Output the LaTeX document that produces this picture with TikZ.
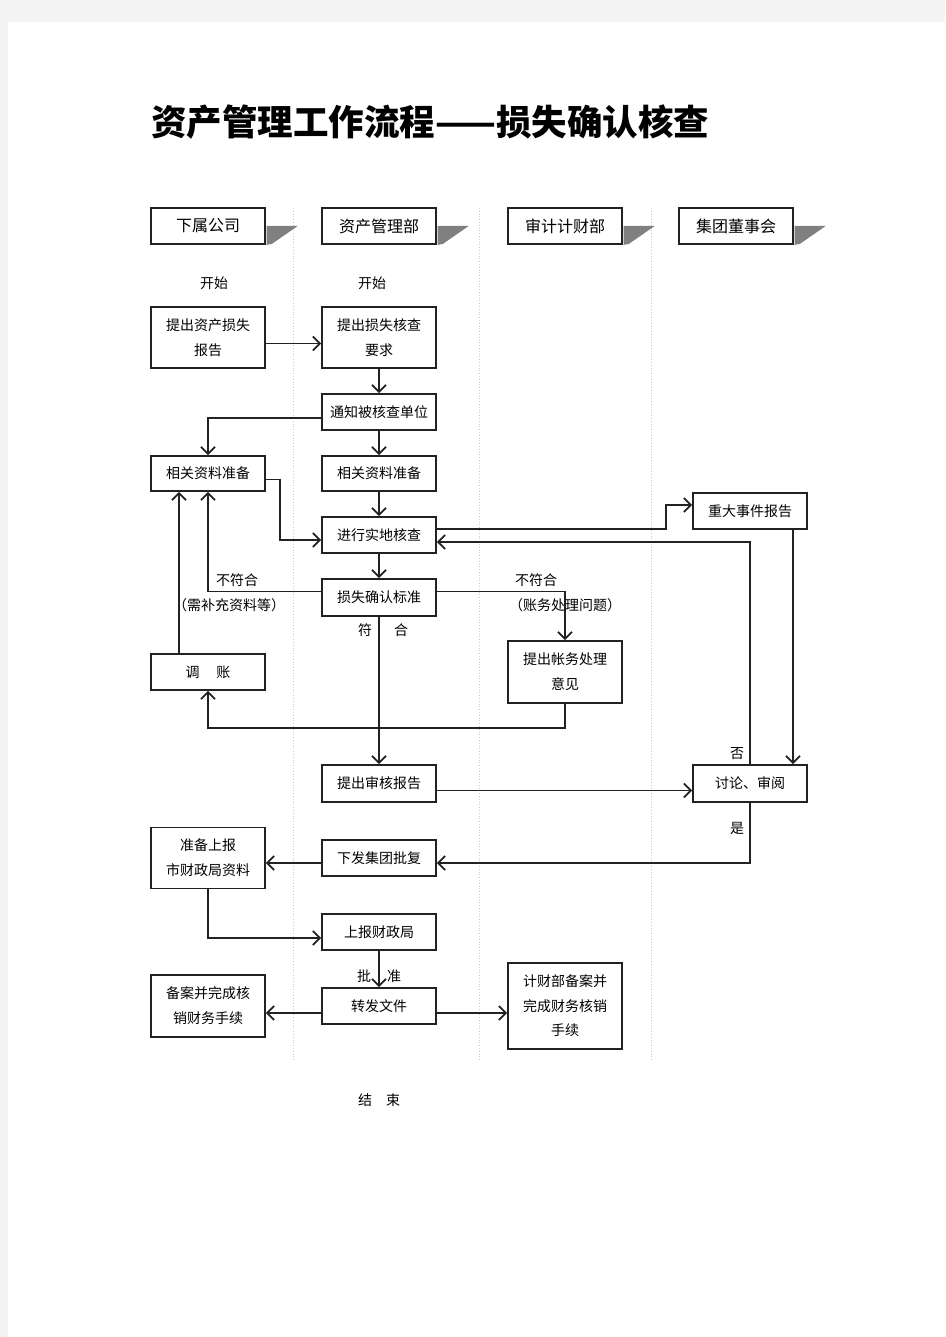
\documentclass[tikz,border=0pt]{standalone}
\usepackage{fontspec}
\setmainfont{Noto Sans CJK SC}
\usetikzlibrary{arrows.meta,calc}
\definecolor{pagegray}{HTML}{F4F4F4}
\definecolor{lanegray}{HTML}{C8C8C8}
\definecolor{shadowgray}{HTML}{808080}
\definecolor{ink}{HTML}{222222}
\begin{document}
\begin{tikzpicture}[x=1pt,y=-1pt,
 box/.style={draw=ink, line width=1.7pt, fill=white, minimum width=114pt, minimum height=36pt, inner sep=0pt, align=center, font=\fontsize{14}{25}\selectfont},
 hbox/.style={box, font=\fontsize{16}{20}\selectfont},
 lane/.style={draw=lanegray, line width=0.8pt, dotted},
 arr/.style={draw=ink, line width=1.8pt, -{Straight Barb[length=7pt,width=14pt,line width=1.8pt]}},
 lbl/.style={font=\fontsize{14}{16}\selectfont, inner sep=0pt},
]
\useasboundingbox (0,0) rectangle (945,1337);
\fill[pagegray] (0,0) rectangle (945,1337);
\fill[white] (8,22) rectangle (945,1337);

% title
\node[anchor=west, inner sep=0pt, font=\fontsize{35.5}{40}\selectfont\bfseries] (title) at (151,122) {资产管理工作流程——损失确认核查};

% lanes
\draw[lane] (293,208) -- (293,1060);
\draw[lane] (479,208) -- (479,1060);
\draw[lane] (651,208) -- (651,1060);

% headers
\node[hbox] (h1) at (208,226) {下属公司};
\node[hbox] (h2) at (379,226) {资产管理部};
\node[hbox] (h3) at (565,226) {审计计财部};
\node[hbox] (h4) at (736,226) {集团董事会};
\foreach \h in {h1,h2,h3,h4}{
  \fill[shadowgray] ([xshift=0.85pt]\h.east) -- ++(31,0) -- ++(-26,18) -- ([xshift=0.85pt]\h.south east) -- cycle;
}

% start labels
\node[lbl] (s1) at (214,283) {开始};
\node[lbl] (s2) at (372,283) {开始};

% boxes
\node[box, minimum height=61pt] (a1) at (208,337.5) {提出资产损失\\报告};
\node[box, minimum height=61pt] (b1) at (379,337.5) {提出损失核查\\要求};
\node[box] (b2) at (379,412) {通知被核查单位};
\node[box, minimum height=35pt] (a2) at (208,473.5) {相关资料准备};
\node[box, minimum height=35pt] (b3) at (379,473.5) {相关资料准备};
\node[box] (b4) at (379,535) {进行实地核查};
\node[box] (d1) at (750,511) {重大事件报告};
\node[box, minimum height=37pt] (b5) at (379,597.5) {损失确认标准};
\node[box, minimum height=62pt] (c1) at (565,672) {提出帐务处理\\意见};
\node[box] (a3) at (208,672) {调\hspace{1.2em}账};
\node[box, minimum height=37pt] (b6) at (379,783.5) {提出审核报告};
\node[box, minimum height=37pt] (d2) at (750,783.5) {讨论、审阅};
\node[box] (b7) at (379,858) {下发集团批复};
\node[box, minimum height=61pt] (a4) at (208,858) {准备上报\\市财政局资料};
\node[box] (b8) at (379,932) {上报财政局};
\node[box] (b9) at (379,1006) {转发文件};
\node[box, minimum height=62pt] (a5) at (208,1006) {备案并完成核\\销财务手续};
\node[box, minimum height=86pt, font=\fontsize{14}{24.5}\selectfont] (c2) at (565,1006) {计财部备案并\\完成财务核销\\手续};

\node[lbl] (e1) at (379,1100) {结\hspace{1em}束};

% connectors
\draw[arr] ([yshift=-6pt]a1.east) -- ([yshift=-6pt]b1.west);
\draw[arr] (b1) -- (b2);
\draw[arr] ([yshift=-6pt]b2.west) -| (a2.north);
\draw[arr] (b2) -- (b3);
\draw[arr] ([yshift=-6pt]a2.east) -- ++(14,0) |- ([yshift=-5pt]b4.west);
\draw[arr] (b3) -- (b4);
\draw[arr] ([yshift=6pt]b4.east) -- ++(229,0) |- ([yshift=6pt]d1.west);
\draw[arr] (d2.north) |- ([yshift=-7pt]b4.east);
\draw[arr] ([xshift=43pt]d1.south) -- ([xshift=43pt]d2.north);
\draw[arr] (b4) -- (b5);
\draw[arr] ([yshift=6pt]b5.west) -| (a2.south);
\draw[arr] ([yshift=6pt]b5.east) -| (c1.north);
\draw[arr] (c1.south) -- ++(0,24) -| (a3.south);
\draw[arr] ([xshift=-29pt]a3.north) -- ([xshift=-29pt]a2.south);
\draw[arr] (b5) -- (b6);
\draw[arr] ([yshift=-7pt]b6.east) -- ([yshift=-7pt]d2.west);
\draw[arr] (d2.south) |- ([yshift=-5pt]b7.east);
\draw[arr] ([yshift=-5pt]b7.west) -- ([yshift=-5pt]a4.east);
\draw[arr] (a4.south) |- ([yshift=-6pt]b8.west);
\draw[arr] (b8) -- (b9);
\draw[arr] ([yshift=-7pt]b9.west) -- ([yshift=-7pt]a5.east);
\draw[arr] ([yshift=-7pt]b9.east) -- ([yshift=-7pt]c2.west);

% connector labels
\node[lbl] (l1) at (237,580) {不符合};
\node[lbl] (l2) at (229,605) {（需补充资料等）};
\node[lbl] (l3) at (536,580) {不符合};
\node[lbl] (l4) at (565,605) {（账务处理问题）};
\node[lbl] (l5) at (365,630) {符};
\node[lbl] (l6) at (401,630) {合};
\node[lbl] (l7) at (737,754) {否};
\node[lbl] (l8) at (737,828) {是};
\node[lbl] (l9) at (364,976) {批};
\node[lbl] (l10) at (394,976) {准};
\end{tikzpicture}
\end{document}
